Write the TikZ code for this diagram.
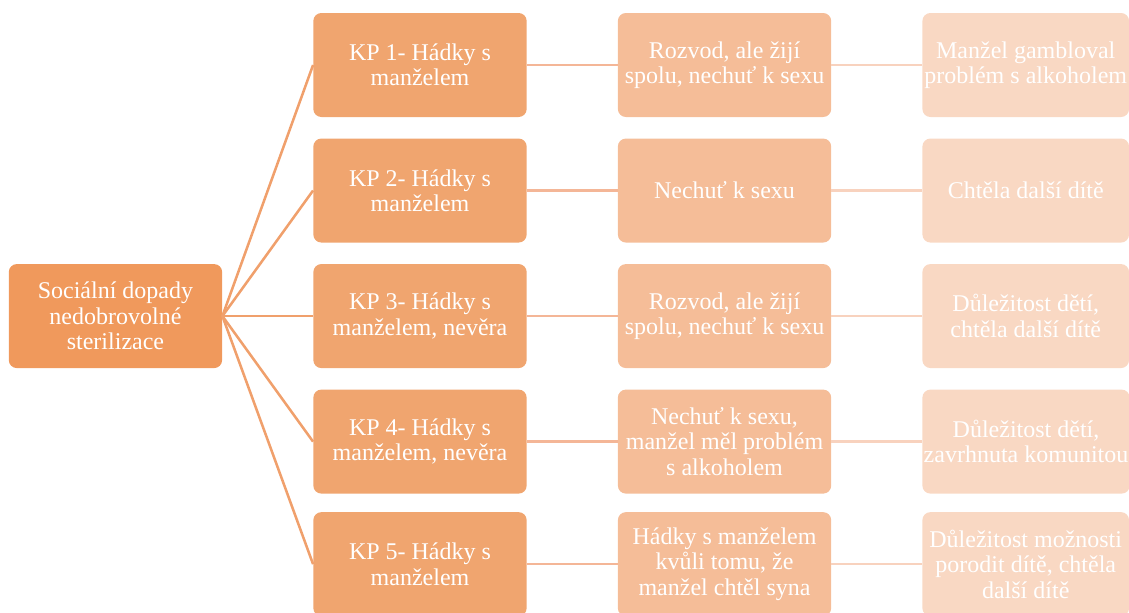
\documentclass[tikz,border=0pt]{standalone}
\usepackage{fontspec}
\setmainfont{Liberation Serif}
\usepackage{xcolor}
\usetikzlibrary{positioning}

\definecolor{rootfill}{HTML}{F0995C}
\definecolor{kpfill}{HTML}{F0A56F}
\definecolor{midfill}{HTML}{F5BD98}
\definecolor{endfill}{HTML}{F9D8C3}
\definecolor{rootline}{HTML}{F0A06C}
\definecolor{midline}{HTML}{F4B697}
\definecolor{endline}{HTML}{F8D2BE}

\tikzset{
  box/.style={rounded corners=6pt, minimum width=160pt, minimum height=78pt,
    inner sep=1pt, align=center, text=white, font=\fontsize{18}{19}\selectfont},
  endbox/.style={box, minimum width=155pt, fill=endfill}
}

\begin{document}
\begin{tikzpicture}[x=0.75pt, y=-0.75pt, node distance=15.75pt and 68pt]
        \useasboundingbox (0,0) rectangle (1129,612);

        % Nodes
        \node (kp1) [box, fill=kpfill] at (420,65) {KP 1- Hádky s\\ manželem};
        \node[below=of kp1] (kp2) [box, fill=kpfill] {KP 2- Hádky s\\ manželem};
        \node[below=of kp2] (kp3) [box, fill=kpfill] {KP 3- Hádky s\\ manželem, nevěra};
        \node[below=of kp3] (kp4) [box, fill=kpfill] {KP 4- Hádky s\\ manželem, nevěra};
        \node[below=13.5pt of kp4] (kp5) [box, fill=kpfill] {KP 5- Hádky s\\ manželem};
        \node[left=of kp3] (root) [box, fill=rootfill] {Sociální dopady\\ nedobrovolné\\ sterilizace};

        % Second column
        \node[right=of kp1] (mid1) [box, fill=midfill] {Rozvod, ale žijí\\ spolu, nechuť k sexu};
        \node[right=of kp2] (mid2) [box, fill=midfill] {Nechuť k sexu};
        \node[right=of kp3] (mid3) [box, fill=midfill] {Rozvod, ale žijí\\ spolu, nechuť k sexu};
        \node[right=of kp4] (mid4) [box, fill=midfill] {Nechuť k sexu,\\ manžel měl problém\\ s alkoholem};
        \node[right=of kp5] (mid5) [box, fill=midfill] {Hádky s manželem\\ kvůli tomu, že\\ manžel chtěl syna};

        % Third column
        \node[right=of mid1] (end1) [endbox] {Manžel gambloval\\ problém s alkoholem};
        \node[right=of mid2] (end2) [endbox] {Chtěla další dítě};
        \node[right=of mid3] (end3) [endbox] {Důležitost dětí,\\ chtěla další dítě};
        \node[right=of mid4] (end4) [endbox] {Důležitost dětí,\\ zavrhnuta komunitou};
        \node[right=of mid5] (end5) [endbox] {Důležitost možnosti\\ porodit dítě, chtěla\\ další dítě};

        % Lines
        \foreach \i in {1,...,5} {
          \draw[rootline, line width=1.9pt] (root.east) -- (kp\i.west);
          \draw[midline, line width=1.9pt] (kp\i) -- (mid\i);
          \draw[endline, line width=1.9pt] (mid\i) -- (end\i);
        }

    \end{tikzpicture}
\end{document}
